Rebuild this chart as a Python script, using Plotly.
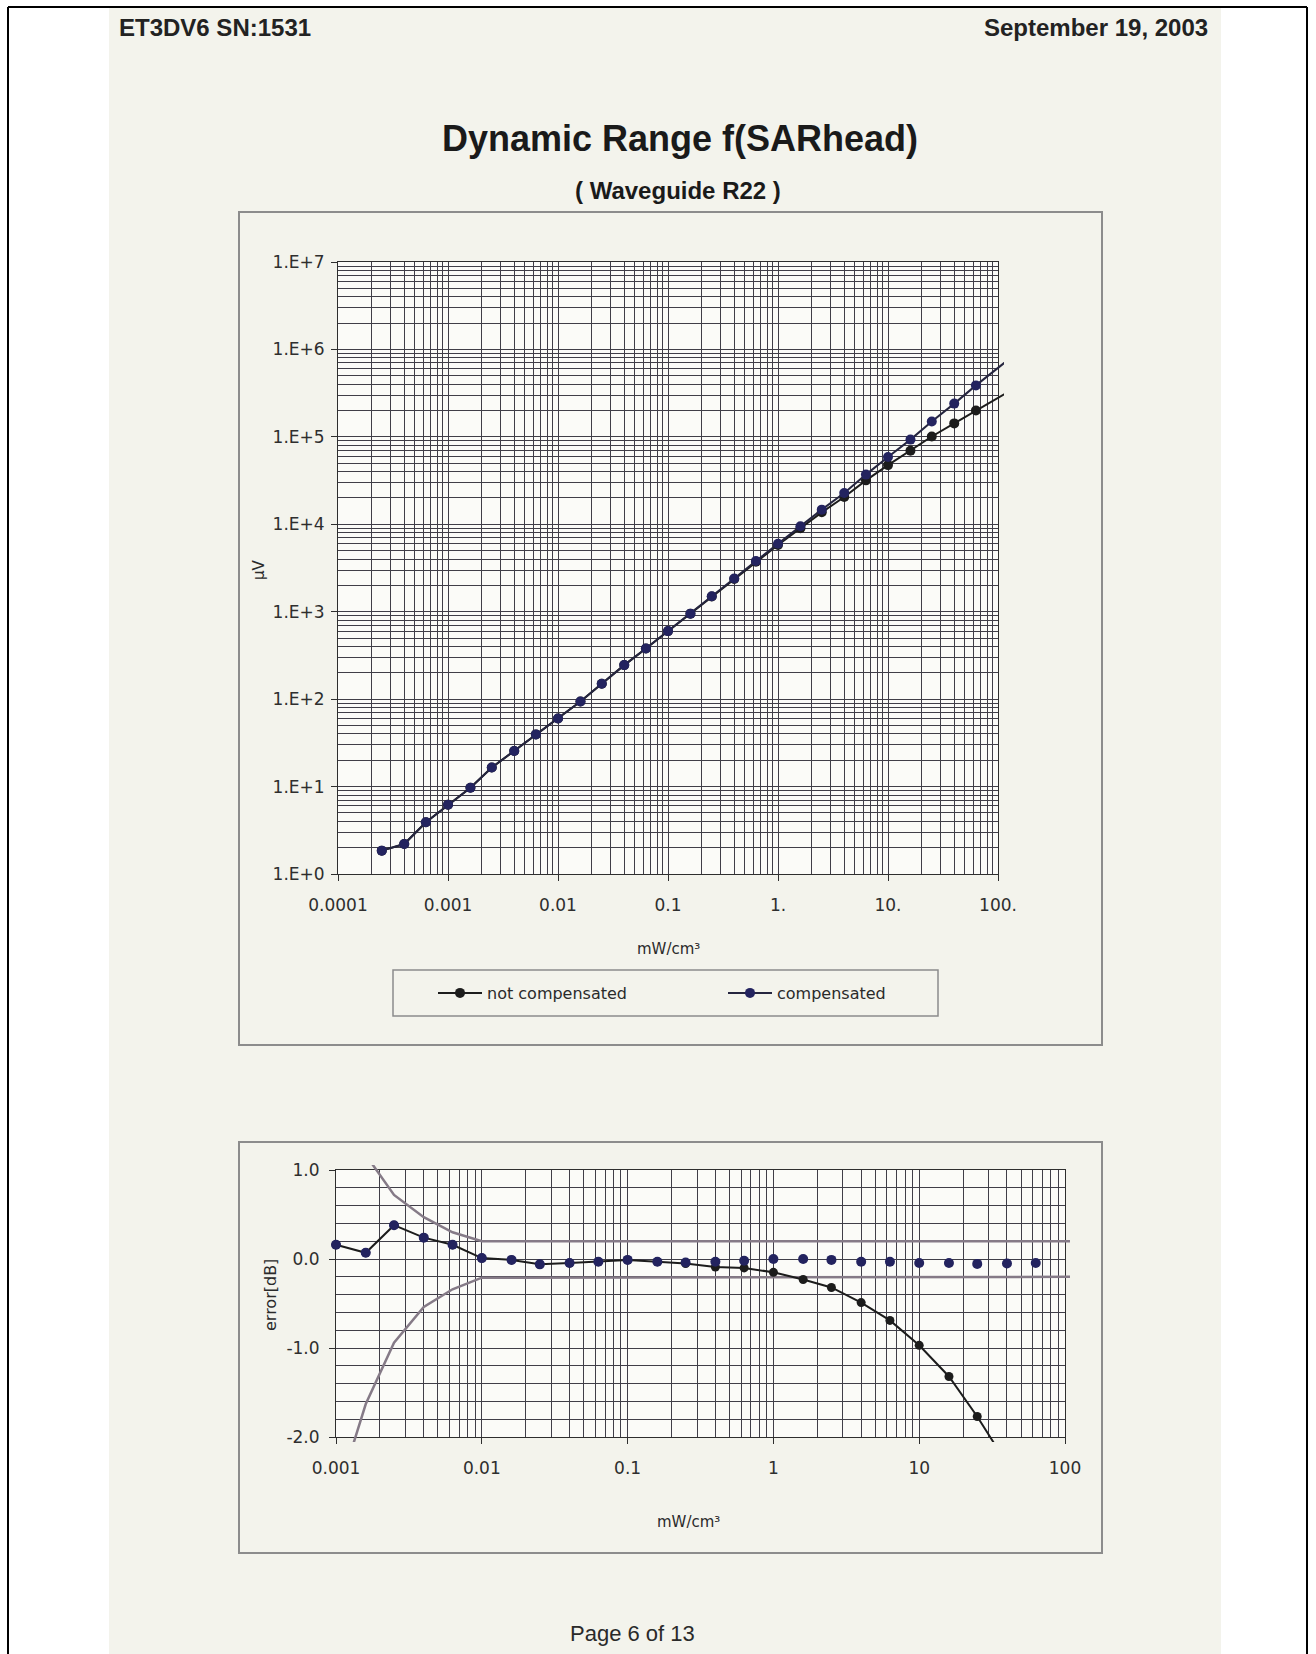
import plotly.graph_objects as go

W, H = 1316, 1654

# ---- dynamic range: probe output (µV) against SAR (mW/cm³)
sar_levels = [0.00025, 0.0004, 0.00063, 0.001, 0.0016, 0.0025, 0.004, 0.0063, 0.01,
              0.016, 0.025, 0.04, 0.063, 0.1, 0.16, 0.25, 0.4, 0.63, 1.0, 1.6, 2.5,
              4.0, 6.3, 10.0, 16.0, 25.0, 40.0, 63.0, 140.0]
uv_compensated = [1.85, 2.2, 3.9, 6.2, 9.7, 16.5, 25.5, 39.5, 60, 94, 150, 245, 380,
                  600, 950, 1500, 2400, 3800, 6000, 9500, 14700, 22800, 37000, 58800,
                  93000, 150000, 240000, 388000, 861000]
uv_not_compensated = [1.85, 2.2, 3.9, 6.2, 9.7, 16.5, 25.5, 39.5, 60, 94, 150, 245, 380,
                      600, 950, 1490, 2370, 3730, 5800, 9000, 13700, 20500, 31800, 47500,
                      69400, 101000, 142600, 200500, 358000]

# ---- linearity error (dB)
err_levels = [0.001, 0.0016, 0.0025, 0.004, 0.0063, 0.01, 0.016, 0.025, 0.04, 0.063,
              0.1, 0.16, 0.25, 0.4, 0.63, 1.0, 1.6, 2.5, 4.0, 6.3, 10.0, 16.0, 25.0,
              40.0, 63.0]
err_compensated = [0.16, 0.07, 0.38, 0.24, 0.16, 0.01, -0.01, -0.06, -0.045, -0.03,
                   -0.01, -0.03, -0.04, -0.03, -0.02, 0.0, 0.0, -0.01, -0.03, -0.03,
                   -0.045, -0.045, -0.055, -0.05, -0.045]
err_not_compensated = [0.16, 0.07, 0.38, 0.24, 0.16, 0.01, -0.01, -0.06, -0.045, -0.03,
                       -0.01, -0.03, -0.05, -0.09, -0.10, -0.15, -0.23, -0.32, -0.49,
                       -0.69, -0.97, -1.32, -1.77, -2.3, -2.9]
limit_levels = [0.001, 0.0016, 0.0025, 0.004, 0.0063, 0.01, 125.0]
limit_upper = [1.69, 1.17, 0.72, 0.47, 0.30, 0.20, 0.20]
limit_lower = [-2.7, -1.63, -0.94, -0.54, -0.34, -0.21, -0.20]

# ---- tick labels
top_x_ticks = [0.0001, 0.001, 0.01, 0.1, 1, 10, 100]
top_x_labels = ["0.0001", "0.001", "0.01", "0.1", "1.", "10.", "100."]
top_y_ticks = [1, 10, 100, 1e3, 1e4, 1e5, 1e6, 1e7]
top_y_labels = ["1.E+0", "1.E+1", "1.E+2", "1.E+3", "1.E+4", "1.E+5", "1.E+6", "1.E+7"]
bot_x_ticks = [0.001, 0.01, 0.1, 1, 10, 100]
bot_x_labels = ["0.001", "0.01", "0.1", "1", "10", "100"]
bot_y_ticks = [-2, -1, 0, 1]
bot_y_labels = ["-2.0", "-1.0", "0.0", "1.0"]

PAGE = "#f3f3ec"
PLOT_BG = "#fbfbf8"
GRID = "#403e48"
AXIS = "#2e2e2e"
BOX = "#8c8c8c"
NAVY = "#23235f"
INK = "#1c1c1c"
LIMIT = "#857a87"
TICK_FONT = dict(family="DejaVu Sans", size=17, color="#2e2e2e")


def fx(p):
    return p / W


def fy(p):
    return 1 - p / H


# plot rectangles in page pixels: (left, top, right, bottom)
TOP = (338, 262, 998, 874)
BOT = (336, 1170, 1065, 1437)
TOP_CLIP = 6
BOT_CLIP = 5


def log_grid(e0, e1):
    vals = [m * 10.0 ** e for e in range(e0, e1) for m in range(1, 10)]
    return vals + [10.0 ** e1]


def domain(rect, horizontal):
    l, t, r, b = rect
    return [fx(l), fx(r)] if horizontal else [fy(b), fy(t)]


def grid_axis(rect, horizontal, rng, grid_vals, anchor, log=True):
    # carries the gridlines and the frame of a plot area
    ax = dict(domain=domain(rect, horizontal), range=rng, tickmode="array",
              tickvals=grid_vals, showticklabels=False, ticks="", anchor=anchor,
              showline=True, mirror=True, linecolor=AXIS, linewidth=1,
              showgrid=True, gridcolor=GRID, gridwidth=1.2, zeroline=False,
              fixedrange=True, automargin=False)
    if log:
        ax["type"] = "log"
    return ax


def label_axis(base, anchor, rng, ticks, labels, standoff, log=True):
    # carries the tick marks and tick labels over a grid axis
    ax = dict(overlaying=base, anchor=anchor, range=rng, tickmode="array",
              tickvals=ticks, ticktext=labels, ticks="outside", ticklen=6,
              tickcolor=AXIS, tickwidth=1, showline=False, showgrid=False,
              zeroline=False, tickfont=TICK_FONT, ticklabelstandoff=standoff,
              fixedrange=True, automargin=False)
    if log:
        ax["type"] = "log"
    return ax


def clip_axis(rect, horizontal, rng, pad, per_unit, anchor, log=True):
    # transparent companion axis whose area reaches a few pixels past the grid
    l, t, r, b = rect
    dom = [fx(l - pad), fx(r + pad)] if horizontal else [fy(b + pad), fy(t - pad)]
    ext = pad / per_unit
    ax = dict(domain=dom, range=[rng[0] - ext, rng[1] + ext], visible=False,
              anchor=anchor, fixedrange=True, automargin=False)
    if log:
        ax["type"] = "log"
    return ax


fig = go.Figure()

# empty traces so that every grid / label axis pair becomes a drawn subplot
for xa_id, ya_id in [("x", "y"), ("x2", "y2"), ("x5", "y"), ("x", "y5"),
                     ("x6", "y2"), ("x2", "y6")]:
    fig.add_trace(go.Scatter(x=[], y=[], xaxis=xa_id, yaxis=ya_id, mode="markers",
                             showlegend=False, hoverinfo="skip"))

# top chart series
fig.add_trace(go.Scatter(
    x=sar_levels, y=uv_not_compensated, name="not compensated", mode="lines+markers",
    line=dict(color=INK, width=2), marker=dict(color=INK, size=10),
    xaxis="x3", yaxis="y3"))
fig.add_trace(go.Scatter(
    x=sar_levels, y=uv_compensated, name="compensated", mode="lines+markers",
    line=dict(color="#25253f", width=2), marker=dict(color=NAVY, size=10),
    xaxis="x3", yaxis="y3"))

# bottom chart series
fig.add_trace(go.Scatter(
    x=limit_levels, y=limit_upper, mode="lines", line=dict(color=LIMIT, width=2.5),
    showlegend=False, xaxis="x4", yaxis="y4"))
fig.add_trace(go.Scatter(
    x=limit_levels, y=limit_lower, mode="lines", line=dict(color=LIMIT, width=2.5),
    showlegend=False, xaxis="x4", yaxis="y4"))
fig.add_trace(go.Scatter(
    x=err_levels, y=err_not_compensated, mode="lines+markers",
    line=dict(color=INK, width=2), marker=dict(color=INK, size=9),
    showlegend=False, xaxis="x4", yaxis="y4"))
fig.add_trace(go.Scatter(
    x=err_levels, y=err_compensated, mode="markers",
    marker=dict(color=NAVY, size=10), showlegend=False, xaxis="x4", yaxis="y4"))

top_x_rng = [-4, 2]
top_y_rng = [0, 7]
bot_x_rng = [-3, 2]
bot_y_rng = [-2, 1]
bot_y_grid = [round(-2 + 0.2 * i, 1) for i in range(16)]

layout_axes = dict(
    xaxis=grid_axis(TOP, True, top_x_rng, log_grid(-4, 2), "y"),
    yaxis=grid_axis(TOP, False, top_y_rng, log_grid(0, 7), "x"),
    xaxis2=grid_axis(BOT, True, bot_x_rng, log_grid(-3, 2), "y2"),
    yaxis2=grid_axis(BOT, False, bot_y_rng, bot_y_grid, "x2", log=False),
    xaxis3=clip_axis(TOP, True, top_x_rng, TOP_CLIP, (TOP[2] - TOP[0]) / 6, "y3"),
    yaxis3=clip_axis(TOP, False, top_y_rng, TOP_CLIP, (TOP[3] - TOP[1]) / 7, "x3"),
    xaxis4=clip_axis(BOT, True, bot_x_rng, BOT_CLIP, (BOT[2] - BOT[0]) / 5, "y4"),
    yaxis4=clip_axis(BOT, False, bot_y_rng, BOT_CLIP, (BOT[3] - BOT[1]) / 3, "x4",
                     log=False),
    xaxis5=label_axis("x", "y", top_x_rng, top_x_ticks, top_x_labels, 10),
    yaxis5=label_axis("y", "x", top_y_rng, top_y_ticks, top_y_labels, 3),
    xaxis6=label_axis("x2", "y2", bot_x_rng, bot_x_ticks, bot_x_labels, 10),
    yaxis6=label_axis("y2", "x2", bot_y_rng, bot_y_ticks, bot_y_labels, 6, log=False),
)


def rect(x0, y0, x1, y1, fill=None, line=None, lw=0):
    return dict(type="rect", xref="paper", yref="paper", layer="below",
                x0=fx(x0), x1=fx(x1), y0=fy(y1), y1=fy(y0),
                fillcolor=fill or "rgba(0,0,0,0)",
                line=dict(color=line or "rgba(0,0,0,0)", width=lw))


def seg(x0, y0, x1, y1, color, w):
    return dict(type="line", xref="paper", yref="paper", layer="above",
                x0=fx(x0), x1=fx(x1), y0=fy(y0), y1=fy(y1),
                line=dict(color=color, width=w))


shapes = [
    rect(109, 8, 1221, H, fill=PAGE),
    rect(239, 212, 1102, 1045, fill=PAGE, line=BOX, lw=2),
    rect(*TOP, fill=PLOT_BG),
    rect(393, 970, 938, 1016, fill=PAGE, line=BOX, lw=1.5),
    rect(239, 1142, 1102, 1553, fill=PAGE, line=BOX, lw=2),
    rect(*BOT, fill=PLOT_BG),
    seg(8, 7, 1307, 7, "#000000", 2),
    seg(8, 7, 8, H, "#000000", 2),
    seg(1307, 7, 1307, H, "#000000", 2),
]


def label(text, x, y, size, family="DejaVu Sans", color="#2a2a2a", anchor="center",
          angle=0):
    return dict(text=text, x=fx(x), y=fy(y), xref="paper", yref="paper",
                xanchor=anchor, yanchor="middle", showarrow=False, textangle=angle,
                font=dict(family=family, size=size, color=color))


annotations = [
    label("<b>ET3DV6 SN:1531</b>", 117, 28, 24, "Liberation Sans", "#222", "left"),
    label("<b>September 19, 2003</b>", 1210, 28, 24, "Liberation Sans", "#222", "right"),
    label("<b>Dynamic Range f(SARhead)</b>", 680, 138, 36, "Liberation Sans", "#1a1a1a"),
    label("<b>( Waveguide R22 )</b>", 678, 190, 24, "Liberation Sans", "#1a1a1a"),
    label("mW/cm³", 668, 949, 15),
    label("µV", 259, 570, 15, angle=-90),
    label("mW/cm³", 688, 1522, 15),
    label("error[dB]", 270, 1295, 16, angle=-90),
    label("Page 6 of 13", 632, 1633, 22, "Liberation Sans", "#2a2a2a"),
]

fig.update_layout(
    width=W, height=H, margin=dict(l=0, r=0, t=0, b=0, pad=0, autoexpand=False),
    paper_bgcolor="#ffffff", plot_bgcolor="rgba(0,0,0,0)",
    shapes=shapes, annotations=annotations,
    showlegend=True,
    legend=dict(orientation="h", x=fx(433), y=fy(993), xanchor="left",
                yanchor="middle", bgcolor="rgba(0,0,0,0)", borderwidth=0,
                entrywidth=231, entrywidthmode="pixels", itemwidth=44,
                font=dict(family="DejaVu Sans", size=16, color="#2a2a2a")),
    **layout_axes,
)

fig.write_html("out.html")
